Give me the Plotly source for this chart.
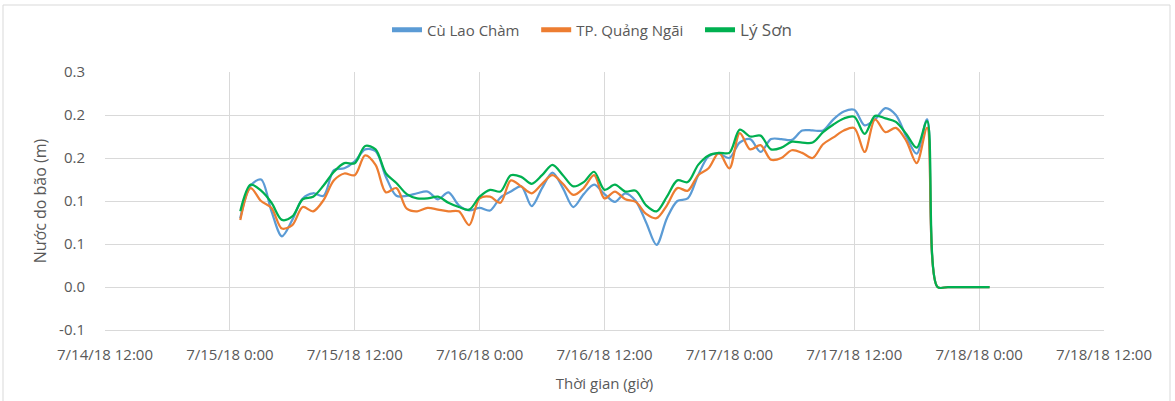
import plotly.graph_objects as go
import pandas as pd

# Hourly series, 7/15/18 01:00 -> 7/18/18 01:00
start_time = "2018-07-15 01:00"
n_hours = 73
times = pd.date_range(start_time, periods=n_hours, freq="h")

cu_lao_cham = [
    0.080, 0.118, 0.125, 0.088, 0.059, 0.078, 0.103, 0.109, 0.106, 0.136, 0.138, 0.146,
    0.160, 0.158, 0.128, 0.106, 0.106, 0.109, 0.111, 0.102, 0.110, 0.095, 0.089, 0.092,
    0.089, 0.104, 0.111, 0.117, 0.094, 0.115, 0.133, 0.115, 0.093, 0.108, 0.119, 0.108,
    0.099, 0.109, 0.100, 0.075, 0.049, 0.080, 0.100, 0.103, 0.130, 0.152, 0.155, 0.150,
    0.168, 0.172, 0.157, 0.172, 0.172, 0.171, 0.182, 0.182, 0.182, 0.195, 0.204, 0.206,
    0.188, 0.195, 0.208, 0.200, 0.175, 0.155, 0.195, 0.0, 0.0, 0.0, 0.0, 0.0, 0.0,
]
tp_quang_ngai = [
    0.078, 0.115, 0.100, 0.092, 0.068, 0.072, 0.093, 0.088, 0.101, 0.124, 0.132, 0.130,
    0.153, 0.142, 0.110, 0.115, 0.091, 0.088, 0.092, 0.090, 0.088, 0.088, 0.072, 0.103,
    0.105, 0.098, 0.124, 0.117, 0.109, 0.120, 0.130, 0.120, 0.107, 0.115, 0.130, 0.103,
    0.111, 0.102, 0.099, 0.085, 0.080, 0.095, 0.115, 0.112, 0.130, 0.138, 0.156, 0.138,
    0.179, 0.160, 0.165, 0.148, 0.150, 0.159, 0.156, 0.150, 0.166, 0.174, 0.182, 0.185,
    0.157, 0.195, 0.180, 0.185, 0.170, 0.144, 0.185, 0.0, 0.0, 0.0, 0.0, 0.0, 0.0,
]
ly_son = [
    0.088, 0.119, 0.112, 0.098, 0.078, 0.082, 0.102, 0.105, 0.118, 0.134, 0.144, 0.144,
    0.164, 0.160, 0.132, 0.121, 0.108, 0.103, 0.103, 0.105, 0.098, 0.093, 0.090, 0.105,
    0.113, 0.111, 0.130, 0.128, 0.120, 0.130, 0.142, 0.130, 0.117, 0.122, 0.134, 0.113,
    0.119, 0.111, 0.112, 0.095, 0.088, 0.105, 0.124, 0.122, 0.142, 0.153, 0.156, 0.156,
    0.183, 0.175, 0.176, 0.160, 0.162, 0.169, 0.168, 0.168, 0.180, 0.189, 0.196, 0.198,
    0.178, 0.199, 0.196, 0.192, 0.178, 0.162, 0.193, 0.0, 0.0, 0.0, 0.0, 0.0, 0.0,
]

series_names = ["Cù Lao Chàm", "TP. Quảng Ngãi", "Lý Sơn"]
series_colors = ["#5B9BD5", "#ED7D31", "#00B050"]

x_tick_vals = pd.date_range("2018-07-14 12:00", "2018-07-18 12:00", freq="12h")
x_tick_text = ["7/14/18 12:00", "7/15/18 0:00", "7/15/18 12:00", "7/16/18 0:00",
               "7/16/18 12:00", "7/17/18 0:00", "7/17/18 12:00", "7/18/18 0:00",
               "7/18/18 12:00"]
y_tick_vals = [-0.05, 0.0, 0.05, 0.10, 0.15, 0.20, 0.25]
y_tick_text = ["-0.1", "0.0", "0.1", "0.1", "0.2", "0.2", "0.3"]

FONT = "Open Sans, Noto Sans, sans-serif"
GRID = "#D9D9D9"
TXT = "#595959"

legend_labels = [
    series_names[0] + "\u00a0\u00a0\u00a0",
    series_names[1] + "\u00a0\u00a0\u00a0",
    "<span style='font-size:17px'>" + series_names[2] + "</span>",
]

fig = go.Figure()
for name, vals, col in zip(legend_labels, [cu_lao_cham, tp_quang_ngai, ly_son], series_colors):
    fig.add_trace(go.Scatter(
        x=times, y=vals, name=name, mode="lines",
        line=dict(color=col, width=2.25, shape="spline", smoothing=0.9),
    ))

fig.update_layout(
    width=1175, height=401,
    margin=dict(l=105, r=71, t=72, b=71),
    paper_bgcolor="white", plot_bgcolor="white",
    font=dict(family=FONT, size=15, color=TXT),
    showlegend=True,
    legend=dict(orientation="h", x=(592 - 105) / 999, xanchor="center",
                y=(330 - 30) / 258, yanchor="middle",
                font=dict(size=15, color=TXT), itemwidth=30, traceorder="normal",
                itemsizing="constant"),
    xaxis=dict(
        range=[x_tick_vals[0], x_tick_vals[-1]],
        tickvals=list(x_tick_vals), ticktext=x_tick_text,
        showgrid=True, gridcolor=GRID, gridwidth=1,
        showline=True, linecolor=GRID, linewidth=1,
        ticks="outside", ticklen=11, tickcolor="rgba(0,0,0,0)",
        tickfont=dict(size=15, color=TXT),
        title=dict(text="Thời gian (giờ)", font=dict(size=15, color=TXT), standoff=15),
        zeroline=False,
    ),
    yaxis=dict(
        range=[-0.05, 0.25],
        tickvals=y_tick_vals, ticktext=y_tick_text,
        showgrid=True, gridcolor=GRID, gridwidth=1,
        showline=False, zeroline=False,
        ticks="outside", ticklen=16, tickcolor="rgba(0,0,0,0)",
        tickfont=dict(size=15, color=TXT),
        title=dict(text="Nước do bão (m)", font=dict(size=16, color=TXT), standoff=8),
    ),
    shapes=[dict(type="rect", xref="paper", yref="paper",
                 x0=(3 - 105) / 999, x1=(1170 - 105) / 999,
                 y0=(330 - 420) / 258, y1=(330 - 5) / 258,
                 line=dict(color="#D9D9D9", width=1), fillcolor="rgba(0,0,0,0)", layer="below")],
)

fig.write_html("out.html", config={"displayModeBar": False},
               post_script="document.body.style.margin='0';")
